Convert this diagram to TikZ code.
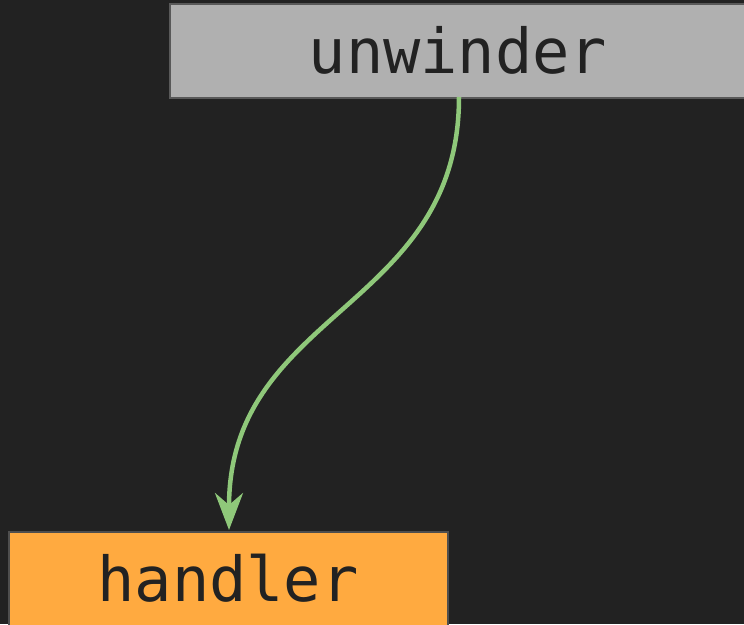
\documentclass[tikz,border=0pt]{standalone}
\usepackage{fontspec}
\setmonofont{DejaVu Sans Mono}
\usetikzlibrary{arrows.meta}
\definecolor{bg}{HTML}{222222}
\definecolor{boxgray}{HTML}{B0B0B0}
\definecolor{boxorange}{HTML}{FFAA40}
\definecolor{flow}{HTML}{8FC87A}
\begin{document}
\begin{tikzpicture}[x=1pt,y=-1pt,
  label font/.style={font=\fontsize{62}{66}\selectfont\ttfamily, text=bg},
  block/.style={draw=#1, line width=1.5pt, inner sep=0pt, anchor=north west},
  link/.style={draw=flow, line width=4.5pt,
    -{Stealth[length=37pt,width=28pt,inset=12pt]}}]
  \fill[bg] (0,0) rectangle (744,624);
  \useasboundingbox (0,0) rectangle (744,624);
  % boxes
  \node[block=black!65, fill=boxgray, minimum width=580pt, minimum height=94pt]
    (unwinder) at (169,3) {};
  \node[block=bg!80!white, fill=boxorange, minimum width=439pt, minimum height=100pt]
    (handler) at (8,531) {};
  % box labels
  \node[label font] (unwindertext) at (458,50) {unwinder};
  \node[label font] (handlertext) at (228,578) {handler};
  % connector
  \coordinate (src) at (459,97);
  \coordinate (dst) at (229,530);
  \draw[link] (src) .. controls (459,310) and (229,310) .. (dst);
\end{tikzpicture}
\end{document}
